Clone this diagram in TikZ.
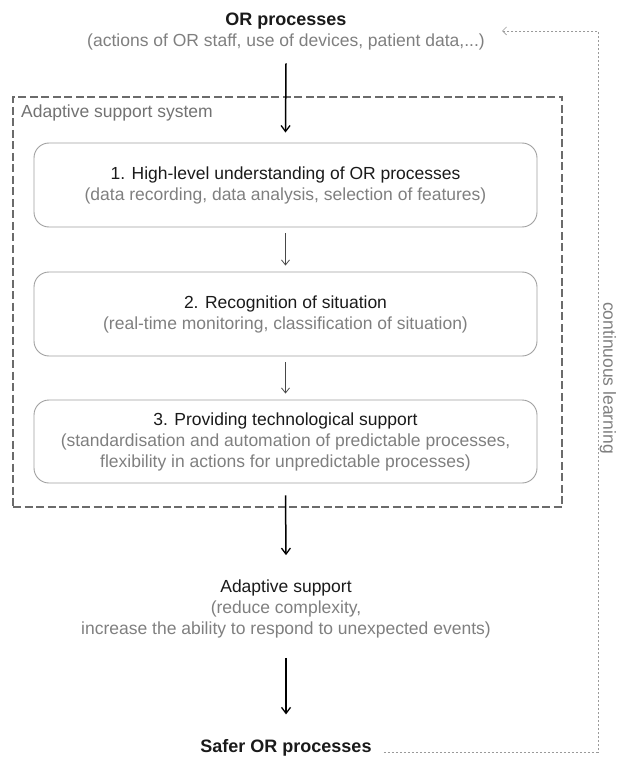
\documentclass[tikz,border=0pt]{standalone}
\usepackage{fontspec}
\setmainfont{Liberation Sans}
\usetikzlibrary{arrows.meta,calc}
\definecolor{titlec}{HTML}{1A1A1A}
\definecolor{subc}{HTML}{7F7F7F}
\definecolor{framec}{HTML}{6B6B6B}
\definecolor{boxc}{HTML}{A0A0A0}
\definecolor{loopc}{HTML}{9A9A9A}
\tikzset{
  txt/.style={font=\fontsize{17.5}{21}\selectfont, align=center, inner sep=0pt},
  ttl/.style={txt, text=titlec},
  sub/.style={txt, text=subc},
  stagebox/.style={draw=boxc, line width=0.9pt, rounded corners=15pt,
    minimum width=503pt, minimum height=84pt, txt, text=titlec},
  frame/.style={draw=framec, line width=2pt, dash pattern=on 8pt off 3.5pt},
  bigarrow/.style={draw=black, line width=1.5pt, -{Straight Barb[length=6pt,width=9pt,line width=1.3pt]}},
  smallarrow/.style={draw=titlec!80, line width=0.8pt, -{Straight Barb[length=5pt,width=8pt,line width=0.8pt]}},
  loopline/.style={draw=loopc, line width=0.8pt, dash pattern=on 2.5pt off 1.5pt},
}
\begin{document}
\begin{tikzpicture}[x=1pt,y=-1pt]
\useasboundingbox (0,0) rectangle (618,759);
% top
\node[ttl, font=\fontsize{18}{21}\selectfont\bfseries] (ortitle) at (286,21) {OR processes};
\node[sub] (orsub) at (286,42) {(actions of OR staff, use of devices, patient data,...)};
% frame
\node[frame, minimum width=549pt, minimum height=410pt, inner sep=0pt] (frame) at (287.5,302) {};
\node[sub, anchor=west, text=subc!90!black] (framelabel) at (21,113) {Adaptive support system};
% stages
\node[stagebox] (box1) at (285.5,185) {1. High-level understanding of OR processes\\
  \textcolor{subc}{(data recording, data analysis, selection of features)}};
\node[stagebox] (box2) at (285.5,314) {2. Recognition of situation\\
  \textcolor{subc}{(real-time monitoring,  classification of situation)}};
\node[stagebox, minimum height=83pt] (box3) at (285.5,441.5) {3. Providing technological  support\\
  \textcolor{subc}{(standardisation and automation of predictable processes,}\\
  \textcolor{subc}{flexibility in actions for unpredictable processes)}};
% result
\node[txt, text=titlec] (adapt) at (286,608.5) {Adaptive support\\
  \textcolor{subc}{(reduce complexity,}\\
  \textcolor{subc}{increase the ability to respond to unexpected events)}};
\node[ttl, font=\fontsize{18}{21}\selectfont\bfseries] (safer) at (286,748) {Safer OR processes};
% arrows
\draw[bigarrow] ($(orsub.south)+(0,13)$) -- ($(box1.north)+(0,-10)$);
\draw[smallarrow] ($(box1.south)+(0,6)$) -- ($(box2.north)+(0,-6)$);
\draw[smallarrow] ($(box2.south)+(0,6)$) -- ($(box3.north)+(0,-6)$);
\draw[bigarrow] ($(box3.south)+(0,12)$) -- ($(adapt.north)+(0,-24)$);
\draw[bigarrow] ($(adapt.south)+(0,20)$) -- ($(safer.north)+(0,-25)$);
% loop
\coordinate (loopstart) at ($(safer.east)+(12,4)$);
\coordinate (loopend) at (502,31);
\draw[loopline, -{Straight Barb[length=4pt,width=8pt,line width=0.7pt]}]
  (loopstart) -- (598,752) -- (598,31) -- (loopend);
\node[sub, rotate=-90, text=subc] (learn) at (608,378) {continuous learning};
\end{tikzpicture}
\end{document}
